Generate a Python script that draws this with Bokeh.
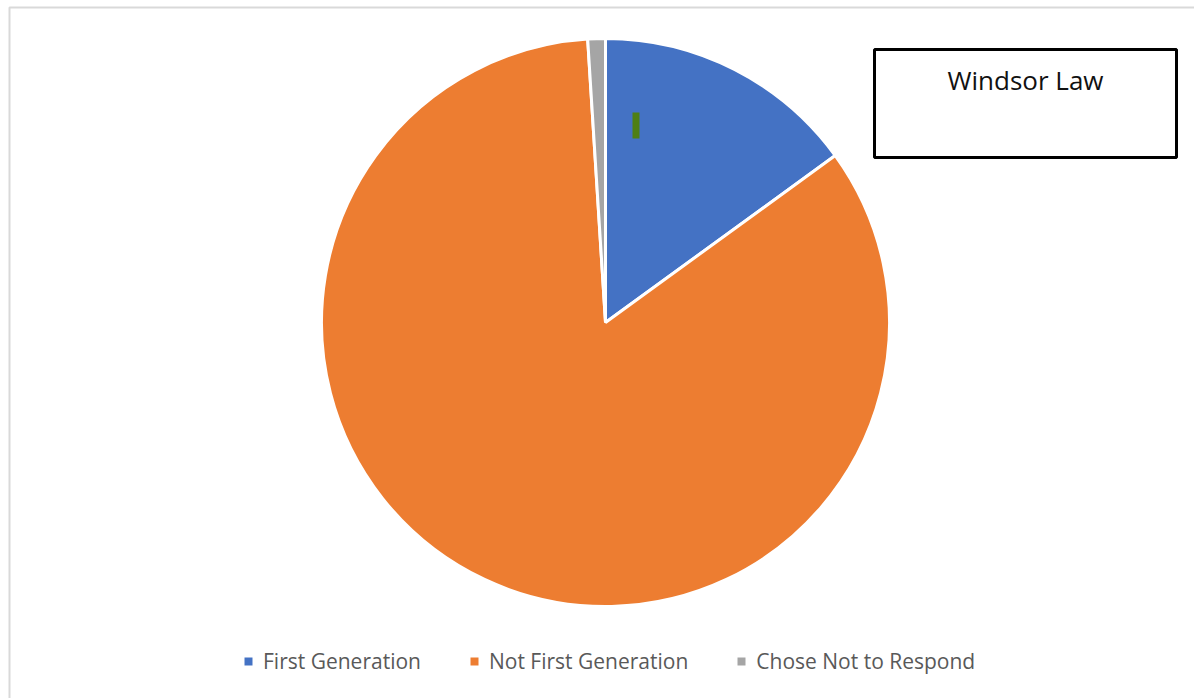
import math
from bokeh.plotting import figure
from bokeh.models import ColumnDataSource, Range1d, Legend, LegendItem, BoxAnnotation, Label
from bokeh.embed import file_html
from bokeh.resources import INLINE

# ---- data ----
categories = ["First Generation", "Not First Generation", "Chose Not to Respond"]
shares = [15.0, 84.0, 1.0]
colors = ["#4472C4", "#ED7D31", "#A5A5A5"]
title_text = "Windsor Law"

W, H = 1194, 698
p = figure(width=W, height=H, output_backend="svg", toolbar_location=None,
           x_range=Range1d(0, W), y_range=Range1d(0, H), min_border=0)
p.axis.visible = False
p.grid.visible = False
p.outline_line_color = None
p.background_fill_color = "white"
p.border_fill_color = "white"

# outer chart-area border
p.add_layout(BoxAnnotation(left=9, right=W + 10, top=H - 7, bottom=-10,
                           fill_alpha=0, line_color="#D9D9D9", line_alpha=1, line_width=2))

# pie geometry (clockwise from 12 o'clock)
total = sum(shares)
starts, ends = [], []
a = math.pi / 2
for s in shares:
    theta = 2 * math.pi * s / total
    starts.append(a)
    ends.append(a - theta)
    a -= theta

cx, cy, r = 605, H - 322, 284
src = ColumnDataSource(dict(cat=categories, start=starts, end=ends, color=colors))
p.wedge(x=cx, y=cy, radius=r, start_angle="start", end_angle="end", direction="clock",
        fill_color="color", line_color="white", line_width=3, source=src)

# small green data-label mark inside the blue slice
p.add_layout(BoxAnnotation(left=632, right=639, top=H - 112, bottom=H - 138,
                           fill_color="#4E7F14", fill_alpha=1, line_color=None))

# title box
p.add_layout(BoxAnnotation(left=874, right=1176, top=H - 49, bottom=H - 157,
                           fill_color="white", fill_alpha=1, line_color="black",
                           line_alpha=1, line_width=3))
p.add_layout(Label(x=1025, y=H - 79, text=title_text, text_align="center",
                   text_baseline="middle", text_font="Open Sans",
                   text_font_size="26px", text_color="#111111"))

# legend with square markers (proxy renderers placed outside the visible range)
items = []
for cat, col in zip(categories, colors):
    rr = p.scatter(x=[-1000], y=[-1000], marker="square", size=8,
                   fill_color=col, line_color=None)
    items.append(LegendItem(label=cat, renderers=[rr]))
legend = Legend(items=items, orientation="horizontal", location=(238, 23),
                glyph_width=20, glyph_height=20, label_standoff=5, spacing=43,
                padding=0, margin=0, border_line_color=None, background_fill_alpha=0,
                label_text_font="Open Sans",
                label_text_font_size="21px", label_text_color="#595959")
p.add_layout(legend, "center")

open("out.html", "w").write(file_html(p, INLINE))
